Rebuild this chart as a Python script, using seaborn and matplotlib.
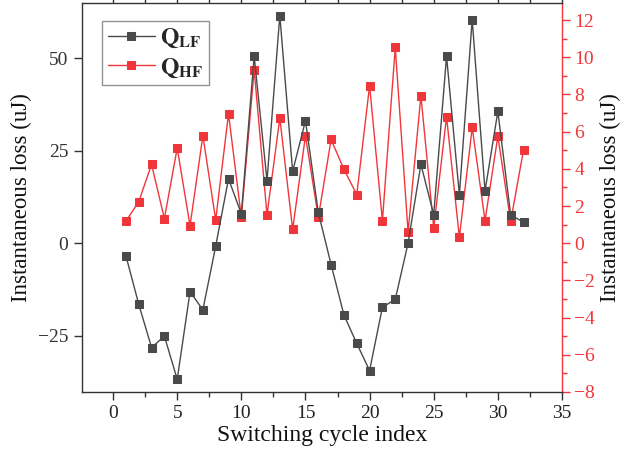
import matplotlib
matplotlib.use("Agg")
import matplotlib.pyplot as plt
from matplotlib.ticker import MultipleLocator
import seaborn as sns
import pandas as pd

cycle = list(range(1, 33))
q_lf = [-3.4, -16.5, -28.2, -25.1, -36.8, -13.1, -18.0, -0.8, 17.4, 7.9,
        50.5, 16.9, 61.5, 19.4, 33.1, 8.3, -5.8, -19.4, -27.1, -34.4,
        -17.3, -15.2, 0.0, 21.3, 7.7, 50.5, 13.1, 60.4, 14.1, 35.6,
        7.6, 5.7]
q_hf = [1.19, 2.23, 4.24, 1.32, 5.12, 0.94, 5.78, 1.25, 6.96, 1.39,
        9.33, 1.52, 6.73, 0.74, 5.78, 1.39, 5.58, 3.97, 2.61, 8.47,
        1.21, 10.53, 0.60, 7.93, 0.82, 6.80, 0.31, 6.23, 1.21, 5.76,
        1.17, 5.01]

df = pd.DataFrame({"cycle": cycle, "lf": q_lf, "hf": q_hf})

sns.set_theme(style="ticks")
plt.rcParams["font.family"] = ["Liberation Serif", "DejaVu Serif"]
plt.rcParams["mathtext.fontset"] = "stix"

LF_COL = "#4a4a4a"
HF_COL = "#f0363a"

fig = plt.figure(figsize=(6.22, 4.59), dpi=100)
ax = fig.add_axes([0.1313, 0.146, 0.7722, 0.8468])
ax2 = ax.twinx()

sns.lineplot(data=df, x="cycle", y="lf", ax=ax, color=LF_COL, marker="s",
             markersize=6, markeredgecolor=LF_COL, linewidth=1.0,
             label=r"$\mathbf{Q_{LF}}$", legend=False)
sns.lineplot(data=df, x="cycle", y="hf", ax=ax2, color=HF_COL, marker="s",
             markersize=6, markeredgecolor=HF_COL, linewidth=1.0,
             label=r"$\mathbf{Q_{HF}}$", legend=False)

ax.set_xlim(-2.45, 35)
ax.set_ylim(-40.2, 64.8)
ax2.set_ylim(-8.0, 12.9)

ax.xaxis.set_major_locator(MultipleLocator(5))
ax.xaxis.set_minor_locator(MultipleLocator(2.5))
ax.yaxis.set_major_locator(MultipleLocator(25))
ax2.yaxis.set_major_locator(MultipleLocator(2))
ax2.yaxis.set_minor_locator(MultipleLocator(1))

ax.tick_params(axis="x", which="major", direction="out", length=6, width=1,
               labelsize=14, top=True, colors="#333333", labelcolor="#222222")
ax.tick_params(axis="x", which="minor", direction="out", length=3.5, width=1,
               top=True, colors="#333333")
ax.tick_params(axis="y", which="major", direction="out", length=6, width=1,
               labelsize=14, colors="#333333", labelcolor="#333333")
ax2.tick_params(axis="y", which="major", direction="out", length=6, width=1,
                labelsize=14, colors=HF_COL, pad=3)
ax2.tick_params(axis="y", which="minor", direction="out", length=3.5, width=1,
                colors=HF_COL)

for sp in ["left", "bottom", "top"]:
    ax.spines[sp].set_color("#333333")
    ax.spines[sp].set_linewidth(1.0)
ax2.spines["right"].set_color(HF_COL)
ax2.spines["right"].set_linewidth(1.0)
for sp in ["left", "bottom", "top"]:
    ax2.spines[sp].set_visible(False)
ax.spines["right"].set_visible(False)
ax.spines["top"].set_visible(True)

ax.set_xlabel("Switching cycle index", fontsize=17, color="#111111", labelpad=2)
ax.set_ylabel("Instantaneous loss (uJ)", fontsize=16.5, color="#111111", labelpad=4)
ax2.set_ylabel("Instantaneous loss (uJ)", fontsize=16.5, color="#111111", labelpad=3)

h1, l1 = ax.get_legend_handles_labels()
h2, l2 = ax2.get_legend_handles_labels()
leg = ax.legend(h1 + h2, l1 + l2, loc="upper left", bbox_to_anchor=(0.042, 0.954),
                borderaxespad=0, fontsize=17, frameon=True, fancybox=False,
                edgecolor="#777777", handlelength=2.0, handletextpad=0.2,
                borderpad=0.25, labelspacing=0.25)
leg.get_frame().set_linewidth(1.0)
ax.set_zorder(ax2.get_zorder() + 1)
ax.patch.set_visible(False)

fig.savefig("out.png", dpi=100)
